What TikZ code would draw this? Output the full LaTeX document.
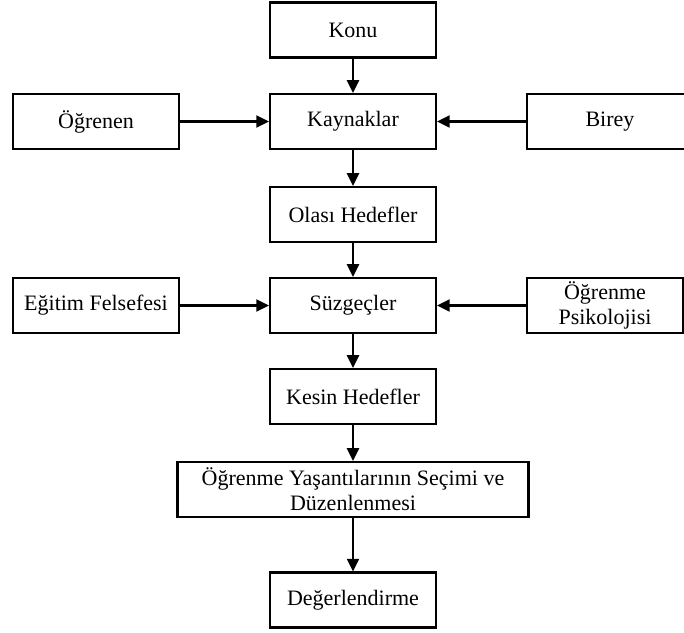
\documentclass[tikz,border=0pt]{standalone}
\usepackage{fontspec}
\setmainfont{Liberation Serif}
\usetikzlibrary{positioning,arrows.meta}
\begin{document}
\begin{tikzpicture}[
  block/.style={rectangle, draw, line width=1.6pt, minimum width=124.5pt, minimum height=41.25pt, align=center, inner sep=2pt},
  >={Triangle[length=9.5pt,width=9pt]},
  font=\fontsize{16.5pt}{18.75pt}\selectfont
]
\useasboundingbox (0,0) rectangle (513pt,-474pt);
\node[block] at (264.75pt,-22.5pt) (konu) {Konu};
\node[block, below of=konu, node distance=68.6pt] (kaynak) {Kaynaklar};
\node[block, left of=kaynak, node distance=192.75pt] (ogrenen) {Öğrenen};
\node[block, right of=kaynak, node distance=192.75pt] (birey) {Birey};
\node[block, below of=kaynak, node distance=69.75pt] (olasi) {Olası Hedefler};
\node[block, below of=olasi, node distance=68.25pt] (suzgec) {Süzgeçler};
\node[block, left of=suzgec, node distance=192.75pt] (felsefe) {Eğitim Felsefesi};
\node[block, right of=suzgec, node distance=189pt, minimum width=117pt] (psiko) {Öğrenme\\Psikolojisi};
\node[block, below of=suzgec, node distance=68.25pt] (kesin) {Kesin Hedefler};
\node[block, below of=kesin, node distance=69.75pt, minimum width=263.25pt] (yasanti) {Öğrenme Yaşantılarının Seçimi ve\\Düzenlenmesi};
\node[block, below of=yasanti, node distance=82.9pt] (deger) {Değerlendirme};

\draw[->,line width=1.6pt] (konu) -- (kaynak);
\draw[->,line width=1.6pt] (ogrenen) -- (kaynak);
\draw[->,line width=1.6pt] (birey) -- (kaynak);
\draw[->,line width=1.6pt] (kaynak) -- (olasi);
\draw[->,line width=1.6pt] (olasi) -- (suzgec);
\draw[->,line width=1.6pt] (felsefe) -- (suzgec);
\draw[->,line width=1.6pt] (psiko) -- (suzgec);
\draw[->,line width=1.6pt] (suzgec) -- (kesin);
\draw[->,line width=1.6pt] (kesin) -- (yasanti);
\draw[->,line width=1.6pt] (yasanti) -- (deger);
\end{tikzpicture}
\end{document}
